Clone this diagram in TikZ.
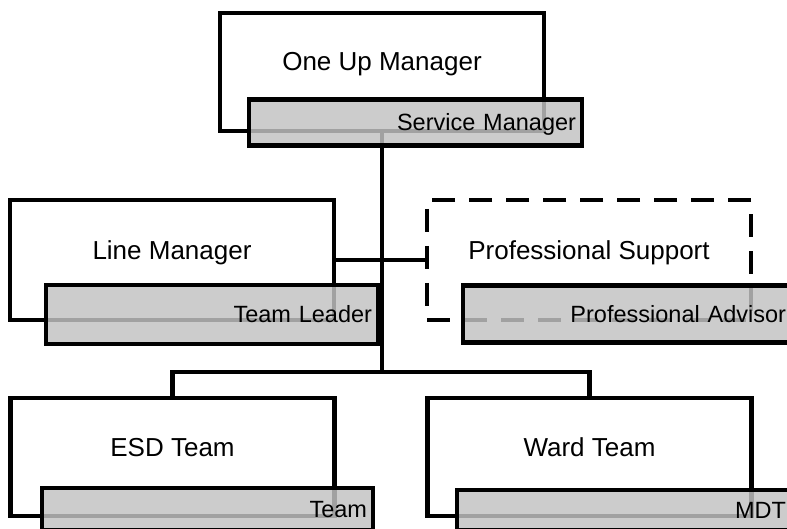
\documentclass[tikz,border=0pt]{standalone}
\usepackage{fontspec}
\setmainfont{Liberation Sans}
\usetikzlibrary{backgrounds}

\begin{document}
\begin{tikzpicture}[x=1pt, y=-1pt,
		rolebox/.style={draw, line width=4.5pt, fill=white, rectangle, inner sep=0pt, minimum width=324pt, minimum height=118pt},
		dashbox/.style={dash pattern=on 23pt off 14pt},
		dutybox/.style={draw, line width=4.5pt, fill=black!24, fill opacity=0.83, text opacity=1, rectangle, inner xsep=6pt, inner ysep=0pt, align=right, text height=16.8pt, text depth=0pt, font=\fontsize{23.5}{28}\selectfont},
		roletext/.style={anchor=base, font=\fontsize{26}{30}\selectfont},
		link/.style={line width=4.5pt}]
		\useasboundingbox (0, 0) rectangle (787, 529);
		\clip (0, 0) rectangle (787, 529);
		
		\node[rolebox] (oneup) at (382, 72) {};
		\node[rolebox, minimum height=120pt] (linemgr) at (172, 260) {};
		\node[rolebox, dashbox, minimum height=120pt] (profsup) at (589, 260) {};
		\node[rolebox] (esd) at (172.5, 457) {};
		\node[rolebox] (ward) at (589.5, 457) {};
		
		\node[roletext] (oneuptext) at ([yshift=-60pt]oneup.north) {One Up Manager};
		\node[roletext] (linemgrtext) at ([yshift=-62pt]linemgr.north) {Line Manager};
		\node[roletext] (profsuptext) at ([yshift=-62pt]profsup.north) {Professional Support};
		\node[roletext] (esdtext) at ([yshift=-61pt]esd.north) {ESD Team};
		\node[roletext] (wardtext) at ([yshift=-61pt]ward.north) {Ward Team};
		
		\node[dutybox, text width=321pt, minimum height=46pt] (service) at (415.5, 122.5) {Service Manager};
		\node[dutybox, text width=320pt, minimum height=59pt] (teamlead) at (212, 314.5) {Team Leader};
		\node[dutybox, text width=317pt, minimum height=57pt] (advisor) at (627.5, 314) {Professional Advisor};
		\node[dutybox, text width=319pt, minimum height=42pt] (esdteam) at (207.5, 509) {Team};
		\node[dutybox, text width=323pt, minimum height=40pt] (mdt) at (624.5, 510) {MDT};
		
		\coordinate (split) at (382, 372);
		
		\begin{pgfonlayer}{background}
			\draw[link] (oneup.south) -- (split);
			\draw[link] (linemgr.east) -- (profsup.west);
			\draw[link] (esd.north) |- (split) -| (ward.north);
		\end{pgfonlayer}
	\end{tikzpicture}
\end{document}
